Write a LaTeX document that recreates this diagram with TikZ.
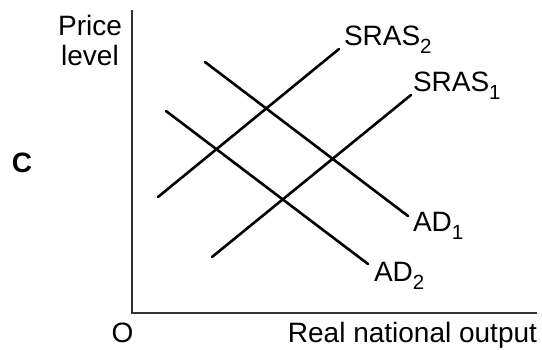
\documentclass[tikz,border=0pt]{standalone}
\usepackage{fontspec}
\setmainfont{Liberation Sans}
\newcommand\mysub[1]{\raisebox{-8pt}{\fontsize{20.5}{20.5}\selectfont #1}}
\begin{document}
\begin{tikzpicture}[x=1pt,y=-1pt,
  lbl/.style={inner sep=0pt,outer sep=0pt,font=\fontsize{28}{30}\selectfont},
  axisline/.style={draw=black!80,line width=2.2pt},
  curve/.style={draw=black,line width=2.6pt,line cap=round}]
\useasboundingbox (0,0) rectangle (542,349);
% axes
\coordinate (ytop) at (132,10);
\coordinate (orig) at (132,313);
\coordinate (xend) at (537,313);
\draw[axisline] (ytop) -- (orig) -- (xend);
% curves
\coordinate (s2a) at (158,197);
\coordinate (s2b) at (339,49);
\coordinate (s1a) at (212,257);
\coordinate (s1b) at (411,95);
\coordinate (d1a) at (205,62);
\coordinate (d1b) at (408,216);
\coordinate (d2a) at (166,111);
\coordinate (d2b) at (368,264);
\draw[curve] (s2a) -- (s2b);
\draw[curve] (s1a) -- (s1b);
\draw[curve] (d1a) -- (d1b);
\draw[curve] (d2a) -- (d2b);
% labels
\node[lbl,anchor=base west] (ls2) at (344,45) {SRAS\mysub{2}};
\node[lbl,anchor=base west] (ls1) at (413,91) {SRAS\mysub{1}};
\node[lbl,anchor=base west] (ld1) at (413,231) {AD\mysub{1}};
\node[lbl,anchor=base west] (ld2) at (374,281) {AD\mysub{2}};
\node[lbl,anchor=base] (price) at (90,35) {Price};
\node[lbl,anchor=base] (level) at (90,65) {level};
\node[lbl,anchor=base] (o) at (122.5,342) {O};
\node[lbl,anchor=base east] (xlab) at (537,342) {Real national output};
\node[lbl,anchor=base,font=\fontsize{28}{30}\selectfont\bfseries] (c) at (22,172) {C};
\end{tikzpicture}
\end{document}
